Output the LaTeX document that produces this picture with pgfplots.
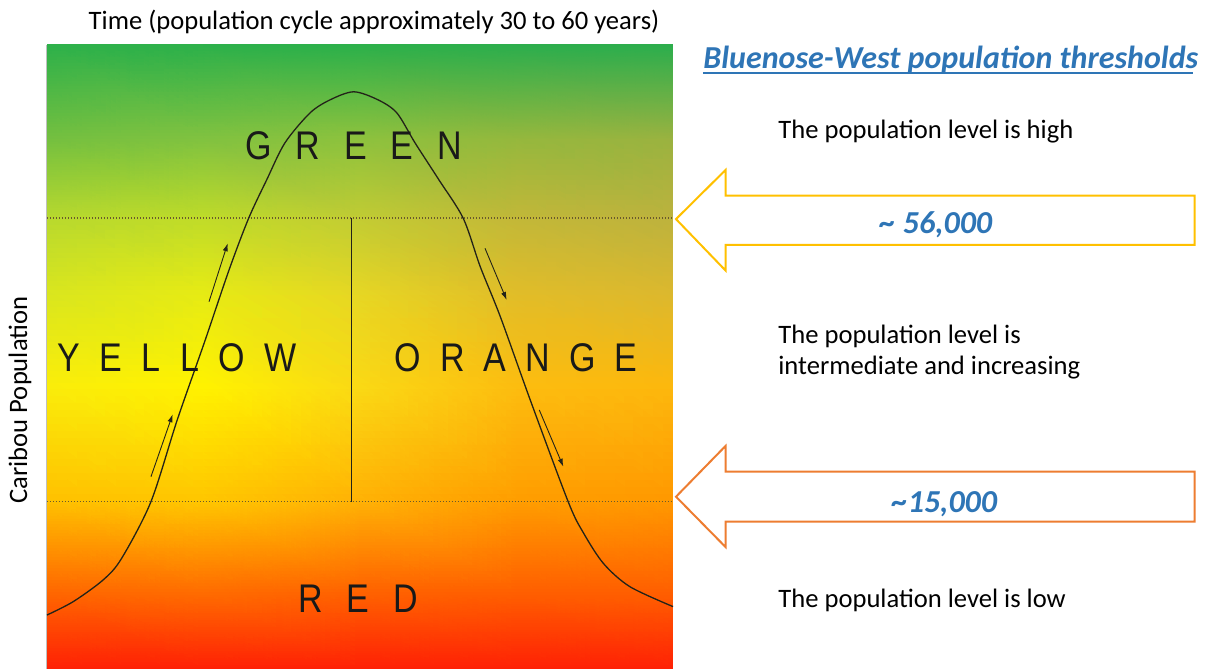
\documentclass[border=0pt]{standalone}
\usepackage{pgfplots}
\pgfplotsset{compat=1.18}
\usepackage{fontspec}
\setmainfont{Carlito}
\newfontfamily\zonefont[FakeStretch=0.85]{Liberation Sans}
\usetikzlibrary{arrows.meta}
\definecolor{hblue}{RGB}{46,117,182}
\definecolor{ayellow}{RGB}{255,192,0}
\definecolor{aorange}{RGB}{237,125,49}
\definecolor{curvec}{RGB}{35,35,25}
\definecolor{dotc}{RGB}{105,90,45}
\newcommand\zf{\zonefont\fontsize{20}{24}\selectfont}
\newcommand\bt{\fontsize{13.3}{16}\selectfont}
\newcommand\hf{\fontsize{16}{19}\selectfont\bfseries\itshape}
\begin{document}
\begin{tikzpicture}
\path[use as bounding box] (-23.5pt,0pt) rectangle (579.5pt,334.5pt);
\begin{axis}[
  at={(0pt,0pt)}, anchor=south west,
  scale only axis, width=313pt, height=312pt,
  view={0}{90},
  xmin=0, xmax=100, ymin=0, ymax=100, zmin=-1, zmax=1,
  hide axis, clip=false,
]
% background colour field
\addplot3[surf, shader=interp, mesh/color input=explicit, mesh/cols=5] table[meta=c] {
x y z c
0 0 0 rgb=1,0.13,0.02
25 0 0 rgb=1,0.13,0.02
50 0 0 rgb=1,0.13,0.02
75 0 0 rgb=1,0.13,0.02
100 0 0 rgb=1,0.13,0.02
0 12 0 rgb=1,0.40,0
25 12 0 rgb=1,0.42,0
50 12 0 rgb=1,0.38,0
75 12 0 rgb=1,0.37,0
100 12 0 rgb=1,0.37,0
0 27 0 rgb=1,0.76,0
25 27 0 rgb=1,0.78,0
50 27 0 rgb=1,0.70,0.02
75 27 0 rgb=1,0.62,0
100 27 0 rgb=1,0.60,0
0 45 0 rgb=0.98,0.93,0.04
25 45 0 rgb=1,0.95,0
50 45 0 rgb=0.98,0.85,0.08
75 45 0 rgb=0.99,0.74,0.06
100 45 0 rgb=0.99,0.72,0.05
0 60 0 rgb=0.85,0.90,0.12
25 60 0 rgb=0.90,0.92,0.08
50 60 0 rgb=0.90,0.84,0.14
75 60 0 rgb=0.88,0.74,0.16
100 60 0 rgb=0.86,0.72,0.18
0 72 0 rgb=0.72,0.85,0.18
25 72 0 rgb=0.75,0.86,0.16
50 72 0 rgb=0.76,0.80,0.20
75 72 0 rgb=0.76,0.72,0.22
100 72 0 rgb=0.74,0.70,0.24
0 85 0 rgb=0.45,0.75,0.25
25 85 0 rgb=0.50,0.76,0.25
50 85 0 rgb=0.55,0.76,0.24
75 85 0 rgb=0.58,0.72,0.24
100 85 0 rgb=0.60,0.70,0.25
0 100 0 rgb=0.17,0.69,0.29
25 100 0 rgb=0.17,0.69,0.29
50 100 0 rgb=0.17,0.69,0.29
75 100 0 rgb=0.17,0.68,0.30
100 100 0 rgb=0.17,0.68,0.30
};
% left border line
\addplot3[black!25, line width=0.5pt] coordinates {(0,0,0) (0,100,0)};
% thresholds
\addplot3[dotc, line width=0.7pt, dash pattern=on 0.7pt off 0.8pt] coordinates {(0,72.3,0) (100,72.3,0)};
\addplot3[dotc, line width=0.7pt, dash pattern=on 0.7pt off 0.8pt] coordinates {(0,26.8,0) (100,26.8,0)};
% divider
\addplot3[curvec, line width=0.5pt] coordinates {(48.7,26.8,0) (48.7,72.3,0)};
% population cycle curve
\addplot3[curvec, line width=0.65pt, smooth, tension=0.5] coordinates {
(0,8.65,0) (4.2,10.8,0) (9.0,14.3,0) (11.9,17.7,0) (16.6,26.8,0)
(20.8,39.9,0) (25.2,52.5,0) (29.1,64.0,0) (32.2,72.2,0) (35.1,78.4,0)
(38.0,84.3,0) (42.0,89.1,0) (45.2,91.2,0) (49.0,92.5,0) (52.9,91.2,0)
(55.9,89.1,0) (58.8,84.3,0) (62.6,78.4,0) (66.5,72.2,0) (69.2,64.5,0)
(72.4,56.5,0) (77.2,43.1,0) (83.3,26.7,0) (85.7,21.8,0) (88.9,16.9,0)
(93.1,13.2,0) (100,10.0,0)};
% direction arrows
\addplot3[curvec, line width=0.45pt, -{Latex[length=4pt,width=2.6pt]}] coordinates {(16.61,30.82,0) (20.08,40.82,0)};
\addplot3[curvec, line width=0.45pt, -{Latex[length=4pt,width=2.6pt]}] coordinates {(25.88,58.86,0) (28.87,68.22,0)};
\addplot3[curvec, line width=0.45pt, -{Latex[length=4pt,width=2.6pt]}] coordinates {(69.97,67.42,0) (73.43,59.13,0)};
\addplot3[curvec, line width=0.45pt, -{Latex[length=4pt,width=2.6pt]}] coordinates {(78.64,41.51,0) (82.48,32.42,0)};
% zone labels
\node[anchor=base, text=black!90] at (axis cs:48.96,81.7,0) {\zf G\hspace{12pt}R\hspace{12pt}E\hspace{12pt}E\hspace{12pt}N};
\node[anchor=base, text=black!90] at (axis cs:20.77,47.6,0) {\zf Y\hspace{9.8pt}E\hspace{9.8pt}L\hspace{9.8pt}L\hspace{9.8pt}O\hspace{9.8pt}W};
\node[anchor=base, text=black!90] at (axis cs:74.92,47.6,0) {\zf O\hspace{9.5pt}R\hspace{9.5pt}A\hspace{9.5pt}N\hspace{9.5pt}G\hspace{9.5pt}E};
\node[anchor=base, text=black!90] at (axis cs:49.68,9.13,0) {\zf R\hspace{12pt}E\hspace{12pt}D};
% titles
\node[anchor=base] at (axis cs:52.24,102.56,0) {\bt Time (population cycle approximately 30 to 60 years)};
\node[rotate=90, anchor=center] at (axis cs:-4.31,43.1,0) {\bt Caribou Population};
\node[anchor=base west, inner sep=0pt, text=hblue] at (axis cs:104.79,96.31,0) {\hf Bluenose-West population thresholds};
\draw[hblue, line width=1pt] (axis cs:104.79,95.59,0) -- (axis cs:183.07,95.59,0);
% threshold arrows
\draw[ayellow, line width=1pt, line join=miter] (axis cs:100.48,72.1,0) -- (axis cs:108.39,79.97,0) -- (axis cs:108.39,75.88,0) -- (axis cs:183.31,75.88,0) -- (axis cs:183.31,67.95,0) -- (axis cs:108.39,67.95,0) -- (axis cs:108.39,63.86,0) -- cycle;
\draw[aorange, line width=1pt, line join=miter] (axis cs:100.48,27.61,0) -- (axis cs:108.39,35.74,0) -- (axis cs:108.39,31.62,0) -- (axis cs:183.31,31.62,0) -- (axis cs:183.31,23.61,0) -- (axis cs:108.39,23.61,0) -- (axis cs:108.39,19.55,0) -- cycle;
\node[anchor=base, text=hblue] at (axis cs:142.0,69.87,0) {\hf \textasciitilde\ 56,000};
\node[anchor=base, text=hblue] at (axis cs:143.37,25.05,0) {\hf \textasciitilde15,000};
% level descriptions
\node[anchor=base west, inner sep=0pt] at (axis cs:116.77,84.94,0) {\bt The population level is high};
\node[anchor=base west, inner sep=0pt] at (axis cs:116.77,52.24,0) {\bt The population level is};
\node[anchor=base west, inner sep=0pt] at (axis cs:116.77,47.12,0) {\bt intermediate and increasing};
\node[anchor=base west, inner sep=0pt] at (axis cs:116.77,9.78,0) {\bt The population level is low};
\end{axis}
\end{tikzpicture}
\end{document}
